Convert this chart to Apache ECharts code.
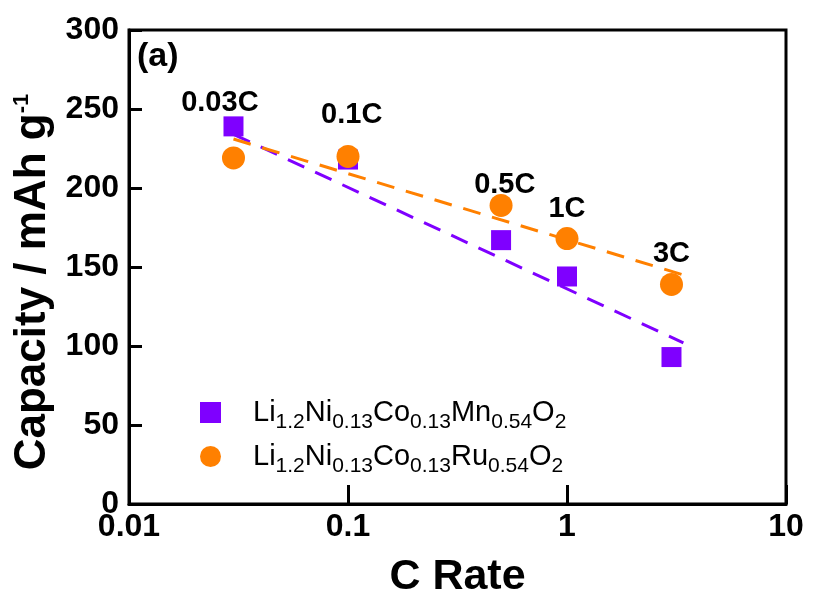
<!DOCTYPE html>
<html>
<head>
<meta charset="utf-8">
<script src="https://cdn.jsdelivr.net/npm/echarts@6/dist/echarts.min.js"></script>
<style>
  html, body { margin: 0; padding: 0; background: #fff; }
  #chart { width: 813px; height: 597px; }
</style>
</head>
<body>
<div id="chart"></div>
<script>
// Discharge capacity versus C rate for the two cathode compositions
const cRates = [0.03, 0.1, 0.5, 1, 3];
const capMn = [239, 218, 167, 144, 93];
const capRu = [219, 220, 189, 168, 139];

// Dashed trend lines (end points)
const fitMnX = [0.03, 3.4];
const fitMnY = [234, 102];
const fitRuX = [0.03, 3.4];
const fitRuY = [231, 145];

// Rate annotations and their anchor positions
const rateLabels = ['0.03C', '0.1C', '0.5C', '1C', '3C'];
const rateLabelX = [0.026, 0.104, 0.52, 1.0, 3.0];
const rateLabelY = [254, 246, 202, 187, 158];

// Axis ticks
const xTicks = [0.01, 0.1, 1, 10];
const yTicks = [0, 50, 100, 150, 200, 250, 300];

const nameMn = 'Li1.2Ni0.13Co0.13Mn0.54O2';
const nameRu = 'Li1.2Ni0.13Co0.13Ru0.54O2';

const FONT = '"Liberation Sans", Arial, sans-serif';
const PURPLE = '#7f00ff';
const ORANGE = '#ff8000';

const zip = (xs, ys) => xs.map((x, i) => [x, ys[i]]);

// Chemical formula -> rich text with subscripted stoichiometry
function formula(name) {
  return name.match(/[A-Za-z]+|[\d.]+/g)
    .map(p => /^[\d.]+$/.test(p) ? '{s|' + p + '}' : '{n|' + p + '}')
    .join('');
}

const chart = echarts.init(document.getElementById('chart'));
chart.setOption({
  animation: false,
  backgroundColor: '#fff',
  title: {
    text: '(a)',
    left: 132,
    top: 35,
    textStyle: { fontFamily: FONT, fontSize: 34, fontWeight: 'bold', color: '#000' }
  },
  grid: {
    left: 129, right: 27, top: 30, bottom: 93,
    show: true, borderColor: '#000', borderWidth: 3,
    outerBoundsMode: 'none'
  },
  legend: {
    orient: 'vertical',
    left: 195,
    top: 387,
    padding: 5,
    itemGap: 3,
    itemWidth: 21,
    itemHeight: 21,
    data: [{ name: nameMn, icon: 'rect' }, { name: nameRu, icon: 'circle' }],
    formatter: formula,
    textStyle: {
      fontFamily: FONT,
      color: '#000',
      padding: [0, 0, 0, 27],
      rich: {
        n: { fontFamily: FONT, fontSize: 29, lineHeight: 30, color: '#000' },
        s: { fontFamily: FONT, fontSize: 21, lineHeight: 20, color: '#000', padding: [20, 0, 0, 0] }
      }
    }
  },
  xAxis: {
    type: 'log',
    logBase: 10,
    min: xTicks[0],
    max: xTicks[xTicks.length - 1],
    name: 'C Rate',
    nameLocation: 'middle',
    nameGap: 52,
    nameTextStyle: { fontFamily: FONT, fontSize: 43, fontWeight: 'bold', color: '#000' },
    axisLine: { show: true, lineStyle: { color: '#000', width: 3 } },
    axisTick: { show: true, inside: true, length: 19, lineStyle: { color: '#000', width: 3 } },
    minorTick: { show: false },
    splitLine: { show: false },
    axisLabel: {
      margin: 7,
      fontFamily: FONT, fontSize: 32, fontWeight: 'bold', color: '#000',
      formatter: v => {
        const t = xTicks.find(t => Math.abs(Math.log10(t) - Math.log10(v)) < 1e-6);
        return t === undefined ? '' : String(t);
      }
    }
  },
  yAxis: {
    type: 'value',
    min: yTicks[0],
    max: yTicks[yTicks.length - 1],
    interval: yTicks[1] - yTicks[0],
    name: 'Capacity / mAh g{sup|-1}',
    nameLocation: 'middle',
    nameRotate: 90,
    nameGap: 72,
    nameTextStyle: {
      fontFamily: FONT, fontSize: 44, fontWeight: 'bold', color: '#000',
      padding: [0, 30, 0, 0],
      rich: {
        sup: { fontFamily: FONT, fontSize: 22, fontWeight: 'bold', color: '#000', padding: [0, 0, 22, 0] }
      }
    },
    axisLine: { show: true, lineStyle: { color: '#000', width: 3 } },
    axisTick: { show: true, inside: true, length: 13, lineStyle: { color: '#000', width: 3 } },
    splitLine: { show: false },
    axisLabel: {
      margin: 10,
      fontFamily: FONT, fontSize: 32, fontWeight: 'bold', color: '#000'
    }
  },
  series: [
    {
      name: 'fitMn',
      type: 'line',
      data: zip(fitMnX, fitMnY),
      symbol: 'none',
      silent: true,
      z: 1,
      lineStyle: { color: PURPLE, width: 3, type: [18, 12] }
    },
    {
      name: 'fitRu',
      type: 'line',
      data: zip(fitRuX, fitRuY),
      symbol: 'none',
      silent: true,
      z: 1,
      lineStyle: { color: ORANGE, width: 3, type: [18, 12] }
    },
    {
      name: nameMn,
      type: 'scatter',
      symbol: 'rect',
      symbolSize: 20,
      z: 3,
      itemStyle: { color: PURPLE, opacity: 1 },
      data: zip(cRates, capMn)
    },
    {
      name: nameRu,
      type: 'scatter',
      symbol: 'circle',
      symbolSize: 23,
      z: 4,
      itemStyle: { color: ORANGE, opacity: 1 },
      data: zip(cRates, capRu)
    },
    {
      // C-rate annotations placed in data coordinates
      name: 'rates',
      type: 'custom',
      silent: true,
      z: 5,
      data: rateLabels.map((t, i) => [rateLabelX[i], rateLabelY[i], i]),
      renderItem: (params, api) => {
        const p = api.coord([api.value(0), api.value(1)]);
        return {
          type: 'text',
          x: p[0],
          y: p[1],
          style: {
            text: rateLabels[api.value(2)],
            fill: '#000',
            align: 'center',
            verticalAlign: 'middle',
            font: 'bold 29px ' + FONT
          }
        };
      }
    }
  ]
});
</script>
</body>
</html>
